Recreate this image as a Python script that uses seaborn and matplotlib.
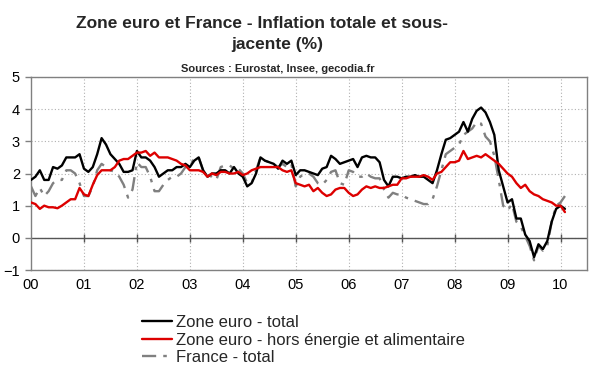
import numpy as np
import pandas as pd
import matplotlib
matplotlib.use("Agg")
import matplotlib.pyplot as plt
import seaborn as sns

# monthly y/y inflation, Jan 2000 .. Feb 2010
ez_total = [
    1.8, 1.9, 2.1, 1.8, 1.8, 2.2, 2.15, 2.25, 2.5, 2.5, 2.5, 2.6,
    2.15, 2.05, 2.2, 2.6, 3.1, 2.9, 2.6, 2.45, 2.3, 2.05, 2.05, 2.1,
    2.7, 2.5, 2.5, 2.4, 2.2, 1.9, 2.0, 2.1, 2.1, 2.2, 2.2, 2.3,
    2.2, 2.4, 2.5, 2.1, 1.9, 2.0, 2.0, 2.1, 2.1, 2.0, 2.2, 2.0,
    1.9, 1.6, 1.7, 2.0, 2.5, 2.4, 2.35, 2.3, 2.15, 2.4, 2.3, 2.4,
    1.95, 2.1, 2.1, 2.05, 2.0, 1.95, 2.15, 2.2, 2.55, 2.45, 2.3, 2.35,
    2.4, 2.45, 2.2, 2.5, 2.55, 2.5, 2.5, 2.35, 1.8, 1.6, 1.9, 1.9,
    1.85, 1.9, 1.9, 1.95, 1.9, 1.9, 1.8, 1.7, 2.1, 2.6, 3.05, 3.1,
    3.2, 3.3, 3.6, 3.3, 3.7, 3.95, 4.05, 3.9, 3.6, 3.2, 2.1, 1.6,
    1.1, 1.2, 0.6, 0.6, 0.1, -0.1, -0.6, -0.2, -0.35, -0.1, 0.5, 0.9,
    1.0, 0.9,
]
ez_core = [
    1.1, 1.05, 0.9, 1.0, 0.95, 0.95, 0.92, 1.0, 1.1, 1.2, 1.2, 1.55,
    1.35, 1.3, 1.65, 1.95, 2.1, 2.1, 2.1, 2.2, 2.4, 2.45, 2.45, 2.55,
    2.65, 2.65, 2.7, 2.55, 2.65, 2.5, 2.5, 2.5, 2.45, 2.4, 2.3, 2.25,
    2.1, 2.1, 2.1, 2.05, 1.9, 2.0, 1.95, 2.05, 2.05, 2.0, 2.0, 2.05,
    1.95, 2.0, 2.1, 2.15, 2.2, 2.2, 2.2, 2.2, 2.2, 2.1, 2.05, 2.1,
    1.7, 1.65, 1.6, 1.65, 1.45, 1.55, 1.4, 1.3, 1.35, 1.5, 1.55, 1.55,
    1.4, 1.3, 1.35, 1.5, 1.6, 1.55, 1.6, 1.55, 1.55, 1.6, 1.65, 1.65,
    1.85, 1.85, 1.9, 1.9, 1.9, 1.95, 1.9, 1.8, 2.0, 2.05, 2.2, 2.35,
    2.35, 2.4, 2.7, 2.45, 2.5, 2.55, 2.5, 2.6, 2.5, 2.4, 2.3, 2.15,
    2.0, 1.9, 1.7, 1.55, 1.65, 1.45, 1.35, 1.3, 1.2, 1.15, 1.1, 1.0,
    1.0, 0.8,
]
fr_total = [
    1.6, 1.3, 1.55, 1.3, 1.45, 1.7, 1.8, 1.8, 2.1, 2.1, 2.0, 1.7,
    1.3, 1.3, 1.6, 2.1, 2.3, 2.2, 2.1, 2.05, 1.9, 1.65, 1.25, 1.5,
    2.35, 2.2, 2.2, 1.9, 1.45, 1.45, 1.65, 1.8, 1.9, 1.9, 2.0, 2.2,
    2.2, 2.5, 2.5, 2.1, 1.95, 1.9, 1.8, 2.2, 2.25, 2.25, 2.15, 2.15,
    2.0, 1.7, 1.7, 2.1, 2.5, 2.4, 2.35, 2.3, 2.2, 2.3, 2.2, 2.3,
    1.6, 1.9, 2.0, 2.0, 1.9, 1.7, 1.65, 1.8, 2.05, 2.1, 1.7, 1.65,
    2.1, 2.05, 1.9, 1.9, 2.0, 1.9, 1.85, 1.85, 1.5, 1.25, 1.4, 1.35,
    1.35, 1.25, 1.2, 1.15, 1.1, 1.05, 1.05, 1.2, 1.6, 2.1, 2.6, 2.7,
    2.8, 2.9, 3.2, 3.3, 3.4, 3.6, 3.55, 3.15, 3.0, 2.55, 1.8, 1.0,
    0.85, 1.05, 0.5, 0.35, 0.05, -0.25, -0.7, -0.25, -0.4, -0.25, 0.5, 1.0,
    1.1, 1.3,
]
year_labels = ["00", "01", "02", "03", "04", "05", "06", "07", "08", "09", "10"]
series_names = ["Zone euro - total",
                "Zone euro - hors énergie et alimentaire",
                "France - total"]

t = np.arange(len(ez_total)) / 12.0
df = pd.DataFrame({"t": t, "ez_total": ez_total, "ez_core": ez_core, "fr_total": fr_total})

sns.set_theme(style="white")
plt.rcParams["font.family"] = ["Liberation Sans", "DejaVu Sans"]

fig = plt.figure(figsize=(6, 3.72), dpi=100)
ax = fig.add_axes([31 / 600, 1 - 270 / 372, 556 / 600, 193 / 372])

years = np.arange(len(year_labels))
for y in range(-1, 6):
    ax.axhline(y, color="#b0b0b0", lw=0.8, ls=(0, (1, 2)), zorder=0)
for yr in years[1:]:
    ax.axvline(yr, color="#b0b0b0", lw=0.8, ls=(0, (1, 2)), zorder=0)
ax.axhline(0, color="#555555", lw=1.0, zorder=1)
ax.vlines(years[1:], -0.12, 0.12, color="#555555", lw=1.0, zorder=1)

sns.lineplot(data=df, x="t", y="fr_total", ax=ax, color="#808080", lw=1.7,
             linestyle=(0, (6, 3, 1.5, 3)), label=series_names[2], zorder=2)
sns.lineplot(data=df, x="t", y="ez_total", ax=ax, color="black", lw=1.7,
             label=series_names[0], zorder=3)
sns.lineplot(data=df, x="t", y="ez_core", ax=ax, color="#dd0000", lw=1.7,
             label=series_names[1], zorder=4)

ax.set_xlim(0, 10.5)
ax.set_ylim(-1, 5)
ax.set_xticks(years)
ax.set_xticklabels(year_labels)
ax.set_yticks(range(-1, 6))
ax.set_xlabel("")
ax.set_ylabel("")
ax.tick_params(axis="x", length=0, pad=6, labelsize=10.5, colors="black")
ax.tick_params(axis="y", length=4, width=1, color="#808080", pad=4,
               labelsize=10.5, labelcolor="black", left=True)
for s in ax.spines.values():
    s.set_color("#808080")
    s.set_linewidth(1.0)

handles, labels = ax.get_legend_handles_labels()
order = [1, 2, 0]
ax.get_legend().remove()
fig.legend([handles[i] for i in order], [labels[i] for i in order],
           loc="upper left", bbox_to_anchor=(142 / 600, 1 - 315 / 372),
           frameon=False, fontsize=12, handlelength=1.8, handletextpad=0.25,
           labelspacing=0.15, borderpad=0, borderaxespad=0)

fig.text(262 / 600, 1 - 24 / 372, "Zone euro et France - Inflation totale et sous-",
         ha="center", va="center", fontsize=12.5, fontweight="bold")
fig.text(277 / 600, 1 - 45 / 372, "jacente (%)",
         ha="center", va="center", fontsize=12.5, fontweight="bold")
fig.text(278 / 600, 1 - 69 / 372, "Sources : Eurostat, Insee, gecodia.fr",
         ha="center", va="center", fontsize=8, fontweight="bold")

fig.savefig("out.png", dpi=100)
